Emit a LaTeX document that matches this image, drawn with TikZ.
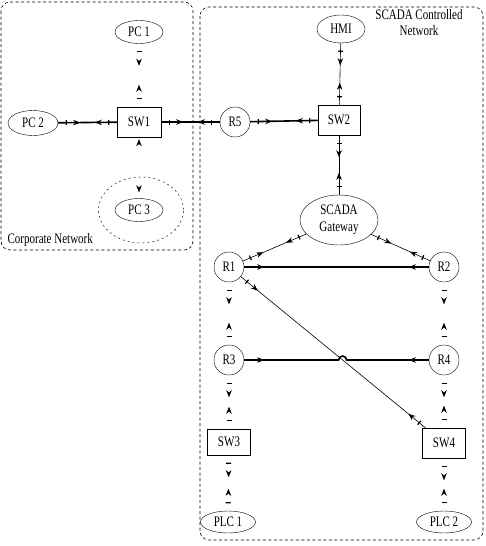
\documentclass[tikz,border=0pt]{standalone}
\usepackage{fontspec}
\setmainfont{Liberation Serif}[FakeStretch=0.76]
\usetikzlibrary{arrows.meta, shapes.geometric, decorations.markings}
\tikzset{
  pc/.style        = {draw, ellipse, inner sep=0pt, minimum width=48pt, minimum height=23pt},
  router/.style    = {draw, circle, inner sep=0pt, minimum size=30pt},
  switchbox/.style = {draw, rectangle, inner sep=0pt, minimum width=43pt, minimum height=29pt},
  zone/.style      = {dash pattern=on 3pt off 2.5pt, line width=0.6pt, rounded corners=9pt},
  thinline/.style  = {line width=0.6pt},
  thickline/.style = {line width=1.6pt},
  link/.style      = {postaction={decorate}, decoration={markings,
      mark=at position 8pt with {\draw[line width=1.2pt] (0,-2.5pt) -- (0,2.5pt);},
      mark=at position 22pt with {\arrow{>}},
      mark=at position -22pt with {\arrowreversed{>}},
      mark=at position -8pt with {\draw[line width=1.2pt] (0,-2.5pt) -- (0,2.5pt);}}},
  trunk/.style     = {thickline, postaction={decorate}, decoration={markings,
      mark=at position 20pt with {\arrow{>}},
      mark=at position -20pt with {\arrowreversed{>}}}},
  pclink/.style    = {postaction={decorate}, decoration={markings,
      mark=at position 2pt with {\arrowreversed{>}},
      mark=at position -6pt with {\arrow{>}}}},
}

\begin{document}
\begin{tikzpicture}[x=1pt, y=-1pt, >={Stealth[length=7pt, width=5.5pt]},
    font=\fontsize{14.5}{16}\selectfont]

  \useasboundingbox (0,0) rectangle (485,546);

  % ── zones ──────────────────────────────────────────────────────────────
  \draw[zone] (1,2) rectangle (193,250);
  \node[anchor=base west] (corplabel) at (4,243) {Corporate Network};
  \draw[zone] (200,7) rectangle (483,540);
  \node[align=center] (scadalabel) at (419,23) {SCADA Controlled\\Network};

  % ── corporate side ─────────────────────────────────────────────────────
  \node[pc] (PC1) at (139,32) {PC 1};
  \node[pc, minimum width=50pt, minimum height=25pt] (PC2) at (33,123) {PC 2};
  \node[switchbox, minimum width=44pt, minimum height=30pt] (SW1) at (139,122) {SW1};
  \node[pc] (PC3) at (139,210) {PC 3};
  \node[draw, ellipse, dash pattern=on 2pt off 3pt, minimum width=85pt,
        minimum height=66pt] (PC3zone) at (141,210) {};

  % ── SCADA side ─────────────────────────────────────────────────────────
  \node[router] (R5) at (235,122) {R5};
  \node[switchbox, minimum width=42pt, minimum height=30pt] (SW2) at (339,120) {SW2};
  \node[pc, minimum height=28pt] (HMI) at (341,29) {HMI};
  \node[draw, ellipse, inner sep=0pt, minimum width=78pt, minimum height=50pt,
        align=center] (GW) at (339,220) {SCADA\\[1pt]Gateway};
  \node[router] (R1) at (229,267) {R1};
  \node[router] (R2) at (444,267) {R2};
  \node[router] (R3) at (229,360) {R3};
  \node[router] (R4) at (444,360) {R4};
  \node[switchbox, minimum height=26pt] (SW3) at (229,442) {SW3};
  \node[switchbox, minimum height=30pt] (SW4) at (444,443) {SW4};
  \node[pc, minimum width=55pt, minimum height=22pt] (PLC1) at (228,522) {PLC 1};
  \node[pc, minimum width=55pt, minimum height=22pt] (PLC2) at (444,522) {PLC 2};

  % hop where the diagonal crosses R3--R4
  \coordinate (hopL) at (338.6,360);

  % ── links ──────────────────────────────────────────────────────────────
  \path[link] (PC1) -- (SW1);
  \draw[thickline, link] (PC2) -- (SW1);
  \path[pclink] (SW1) -- (PC3);
  \draw[thickline, link] (SW1) -- (R5);
  \draw[thickline, link] (R5) -- (SW2);
  \draw[thinline, link] (HMI) -- (SW2);
  \draw[thinline, link] (SW2) -- (GW);
  \draw[thinline, link] (GW) -- (R1);
  \draw[thinline, link] (GW) -- (R2);
  \draw[trunk] (R1) -- (R2);
  \draw[trunk] (R3) -- (hopL) arc[start angle=180, end angle=0, radius=4pt] -- (R4);
  \draw[thinline, link] (R1) -- (SW4);
  \path[link] (R1) -- (R3);
  \path[link] (R2) -- (R4);
  \path[link] (R3) -- (SW3);
  \path[link] (R4) -- (SW4);
  \path[link] (SW3) -- (PLC1);
  \path[link] (SW4) -- (PLC2);

\end{tikzpicture}
\end{document}
